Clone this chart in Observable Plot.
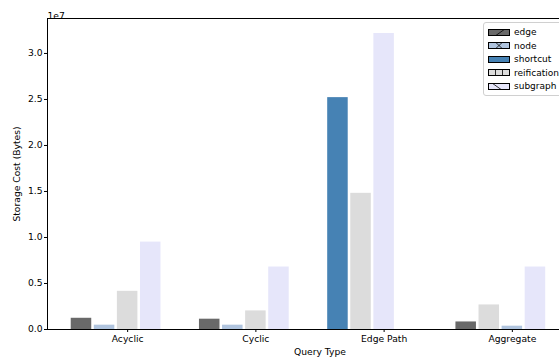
<!DOCTYPE html>
<html>
<head>
<meta charset="utf-8">
<script src="https://cdn.jsdelivr.net/npm/d3@7"></script>
<script src="https://cdn.jsdelivr.net/npm/@observablehq/plot@0.6"></script>
<style>
  html, body { margin: 0; padding: 0; background: #fff; overflow: hidden; width: 559px; height: 361px; }
  #wrap { position: relative; width: 600px; height: 361px; font-family: "DejaVu Sans", sans-serif; }
  #legend { position: absolute; left: 483px; top: 22px; width: 100px; height: 72px; border: 1px solid #d0d0d0; border-radius: 3px; background: rgba(255,255,255,0.8); font-size: 9px; color: #000; }
  .item { position: absolute; left: 4px; height: 12px; display: flex; align-items: center; }
  .item svg { margin-right: 4px; }
</style>
</head>
<body>
<div id="wrap"></div>
<script>
// ---- data ----
const queryTypes = ["Acyclic", "Cyclic", "Edge Path", "Aggregate"];
const seriesNames = ["edge", "node", "shortcut", "reification", "subgraph"];
const seriesColors = ["#696969", "#b0c4de", "#4682b4", "#dcdcdc", "#e6e6fa"];
const seriesHatch = ["/", "x", "", "|", "\\"];
// bars in drawing order within each query group
const barQuery  = ["Acyclic", "Acyclic", "Acyclic", "Acyclic",
                   "Cyclic", "Cyclic", "Cyclic", "Cyclic",
                   "Edge Path", "Edge Path", "Edge Path",
                   "Aggregate", "Aggregate", "Aggregate", "Aggregate"];
const barSeries = ["edge", "node", "reification", "subgraph",
                   "edge", "node", "reification", "subgraph",
                   "shortcut", "reification", "subgraph",
                   "edge", "reification", "node", "subgraph"];
const barValue  = [1.22e6, 0.47e6, 4.15e6, 9.5e6,
                   1.12e6, 0.47e6, 2.02e6, 6.79e6,
                   25.2e6, 14.8e6, 32.17e6,
                   0.82e6, 2.67e6, 0.36e6, 6.79e6];
const yTicks = [0, 0.5e7, 1.0e7, 1.5e7, 2.0e7, 2.5e7, 3.0e7];
const yTickLabels = ["0.0", "0.5", "1.0", "1.5", "2.0", "2.5", "3.0"];
const yExponent = "1e7";

// ---- layout constants ----
const slotStep = 0.18, barWidth = 0.16;

const counts = {};
const bars = barQuery.map((q, i) => {
  const slot = counts[q] || 0;
  counts[q] = slot + 1;
  const center = queryTypes.indexOf(q) + (slot - 2) * slotStep;
  return {query: q, series: barSeries[i], value: barValue[i], x1: center - barWidth / 2, x2: center + barWidth / 2};
});

const chart = Plot.plot({
  width: 600,
  height: 361,
  marginLeft: 47,
  marginRight: 8,
  marginTop: 18,
  marginBottom: 32,
  style: {fontFamily: "DejaVu Sans, sans-serif", fontSize: "9.2px", color: "#000", background: "#fff", overflow: "visible"},
  x: {domain: [-0.625, 3.625]},
  y: {domain: [0, 3.38e7]},
  color: {domain: seriesNames, range: seriesColors},
  marks: [
    Plot.rectY(bars, {x1: "x1", x2: "x2", y1: 0, y2: "value", fill: "series"}),
    Plot.axisX({ticks: queryTypes.map((d, i) => i), tickFormat: i => queryTypes[i], tickSize: 3, tickPadding: 3,
      label: "Query Type", labelAnchor: "center", labelOffset: 25, labelArrow: "none"}),
    Plot.axisY({ticks: yTicks, tickFormat: d => yTickLabels[yTicks.indexOf(d)], tickSize: 3, tickPadding: 2,
      label: "Storage Cost (Bytes)", labelAnchor: "center", labelOffset: 34, labelArrow: "none"}),
    Plot.frame({stroke: "#000", strokeWidth: 1}),
    Plot.text([yExponent], {text: d => d, frameAnchor: "top-left", dy: -6, textAnchor: "start"})
  ]
});

const wrap = document.getElementById("wrap");
wrap.appendChild(chart);

// legend
const legend = document.createElement("div");
legend.id = "legend";
seriesNames.forEach((name, i) => {
  const item = document.createElement("div");
  item.className = "item";
  item.style.top = (3 + i * 13.5) + "px";
  const w = 21, h = 6;
  const svg = d3.create("svg").attr("width", w + 1).attr("height", h + 1);
  const g = svg.append("g").attr("transform", "translate(0.5,0.5)");
  g.append("rect").attr("width", w).attr("height", h).attr("fill", seriesColors[i]).attr("stroke", "#000").attr("stroke-width", 1);
  const hatch = seriesHatch[i];
  const st = {stroke: "#000", "stroke-width": 0.8};
  const line = (x1, y1, x2, y2) => { const l = g.append("line").attr("x1", x1).attr("y1", y1).attr("x2", x2).attr("y2", y2); Object.entries(st).forEach(([k, v]) => l.attr(k, v)); };
  if (hatch === "/") { line(w * 0.35, h, w * 0.75, 0); }
  if (hatch === "\\") { line(w * 0.2, 0, w * 0.6, h); }
  if (hatch === "x") { line(w * 0.35, 0, w * 0.65, h); line(w * 0.65, 0, w * 0.35, h); }
  if (hatch === "|") { line(w / 3, 0, w / 3, h); line(2 * w / 3, 0, 2 * w / 3, h); }
  item.appendChild(svg.node());
  const label = document.createElement("span");
  label.textContent = name;
  item.appendChild(label);
  legend.appendChild(item);
});
wrap.appendChild(legend);
</script>
</body>
</html>
